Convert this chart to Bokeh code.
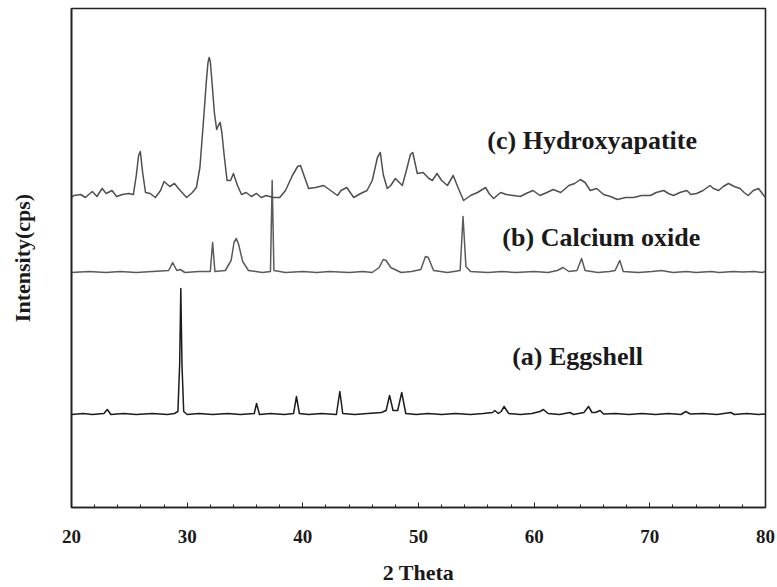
from bokeh.plotting import figure
from bokeh.models import Range1d, SingleIntervalTicker, FixedTicker, Label
from bokeh.embed import file_html
from bokeh.resources import INLINE

# ---- data (2theta in degrees, intensity above each trace's own baseline, cps) ----
egg_2theta = [20.0, 21.0, 21.8, 22.8, 23.1, 23.4, 24.5, 25.6, 27.0, 28.3, 28.9, 29.2, 29.35, 29.45, 29.55,
              29.7, 30.0, 31.0, 32.2, 33.5, 34.6, 35.8, 36.0, 36.25, 37.2, 38.4, 39.2, 39.45, 39.7, 40.5,
              41.6, 42.9, 43.2, 43.45, 44.5, 45.6, 46.8, 47.2, 47.5, 47.8, 48.2, 48.55, 48.9, 49.8, 50.8,
              52.0, 53.2, 54.5, 55.6, 56.4, 56.6, 56.9, 57.15, 57.4, 57.8, 58.8, 59.8, 60.5, 60.8, 61.2,
              62.2, 63.1, 63.4, 64.3, 64.7, 65.0, 65.3, 65.7, 66.0, 67.0, 68.2, 69.3, 70.5, 71.6, 72.7,
              73.1, 73.5, 74.6, 75.8, 77.0, 77.3, 78.4, 79.4, 80.0]
egg_int = [0, 10, 0, 10, 50, 0, 10, 0, 10, 0, 10, 30, 500, 1260, 500,
           30, 0, 10, 0, 10, 0, 10, 110, 0, 10, 0, 10, 180, 10, 0,
           10, 0, 230, 10, 0, 10, 20, 40, 190, 40, 40, 220, 10, 0, 10,
           0, 10, 0, 10, 20, 40, 10, 30, 80, 10, 0, 10, 30, 50, 10,
           0, 20, 0, 20, 80, 20, 20, 40, 5, 10, 0, 10, 0, 10, 0,
           30, 5, 10, 0, 20, 0, 10, 0, 5]

cao_2theta = [20.0, 21.5, 23.0, 24.2, 25.6, 27.0, 28.4, 28.75, 29.1, 29.4, 29.8, 31.0, 32.0, 32.2, 32.4,
              33.3, 33.8, 34.05, 34.25, 34.45, 34.8, 35.3, 36.5, 37.2, 37.35, 37.5, 38.5, 40.0, 41.2, 42.3,
              44.0, 45.2, 46.0, 46.6, 46.95, 47.2, 47.6, 48.5, 49.4, 50.2, 50.6, 50.85, 51.3, 52.5, 53.6,
              53.85, 54.1, 54.5, 56.0, 57.2, 58.4, 60.0, 61.2, 62.0, 62.5, 63.0, 63.7, 64.1, 64.4, 65.5,
              66.5, 67.0, 67.4, 67.7, 69.0, 70.2, 71.0, 72.0, 73.2, 74.0, 75.3, 76.0, 77.2, 78.0, 79.0,
              79.7, 80.0]
cao_int = [0, 10, 0, 10, 0, 10, 20, 100, 20, 30, 0, 10, 10, 300, 10,
           20, 120, 300, 340, 280, 110, 20, 0, 10, 920, 20, 0, 10, 0, 10,
           0, 10, 0, 50, 130, 120, 50, 0, 10, 30, 160, 150, 20, 0, 20,
           560, 60, 10, 0, 10, 0, 10, 0, 20, 50, 10, 20, 140, 20, 0,
           10, 20, 120, 10, 0, 10, 20, 0, 10, 0, 10, 0, 10, 5, 10,
           0, 10]

hap_2theta = [20.0, 20.2, 20.8, 21.2, 21.8, 22.2, 22.65, 23.0, 23.5, 23.9, 24.4, 24.95, 25.35, 25.6, 25.8,
              25.95, 26.15, 26.4, 26.8, 27.25, 27.7, 28.0, 28.5, 28.9, 29.4, 29.95, 30.45, 30.8, 31.1, 31.4,
              31.65, 31.8, 31.9, 32.0, 32.15, 32.35, 32.55, 32.7, 32.85, 33.0, 33.2, 33.45, 33.75, 34.0, 34.35,
              34.7, 35.1, 35.55, 36.0, 36.4, 36.85, 37.4, 38.0, 38.5, 39.1, 39.55, 39.8, 40.1, 40.5, 41.1,
              41.8, 42.4, 43.0, 43.3, 43.8, 44.4, 45.0, 45.55, 46.0, 46.45, 46.7, 46.95, 47.3, 47.6, 48.0,
              48.6, 48.95, 49.3, 49.5, 49.9, 50.4, 50.9, 51.2, 51.6, 52.0, 52.5, 53.0, 53.45, 53.9, 54.5,
              55.1, 55.8, 56.1, 56.5, 57.1, 57.6, 58.2, 58.8, 59.3, 59.9, 60.5, 61.1, 61.65, 62.3, 63.0,
              63.5, 64.0, 64.4, 64.85, 65.4, 66.0, 66.6, 67.2, 67.9, 68.6, 69.3, 70.05, 70.55, 71.2, 71.6,
              72.05, 72.6, 73.2, 73.55, 74.05, 74.6, 75.2, 75.5, 75.95, 76.35, 76.8, 77.3, 77.8, 78.15, 78.5,
              78.95, 79.4, 79.85, 80.0]
hap_int = [0, 20, 30, 0, 60, 10, 90, 40, 70, 10, 30, 40, 30, 220, 420,
           460, 250, 50, 40, 0, 70, 160, 110, 140, 70, 0, 50, 100, 300, 750,
           1150, 1350, 1400, 1360, 1150, 850, 680, 720, 750, 650, 420, 170, 170, 240, 120,
           30, 50, 10, 40, 0, 20, 0, 0, 70, 220, 310, 320, 220, 90, 100,
           120, 70, 20, 70, 100, 0, 40, 70, 170, 400, 450, 230, 90, 120, 190,
           120, 270, 430, 450, 240, 250, 190, 170, 240, 170, 120, 220, 90, -30, 20,
           50, 100, 40, -10, 50, 30, 20, 10, 40, 70, 20, 50, 80, 50, 120,
           140, 180, 150, 70, 90, 30, 10, -20, 0, 0, 20, 20, 50, 70, 40,
           20, 50, 70, 30, 40, 70, 120, 90, 70, 110, 140, 110, 90, 50, 20,
           70, 90, 20, 0]

labels = ["(a) Eggshell", "(b) Calcium oxide", "(c) Hydroxyapatite"]
x_ticks = [20, 30, 40, 50, 60, 70, 80]

# ---- layout / style ----
offsets = [930, 2350, 3100]          # vertical stacking of the three patterns
colors = ["#1c1c1c", "#5a5a5a", "#4f4f4f"]
label_pos = [(58.1, 1510), (57.25, 2700), (55.95, 3670)]
SERIF = "Liberation Serif"

p = figure(width=777, height=587, output_backend="svg", toolbar_location=None,
           x_range=Range1d(20, 80), y_range=Range1d(0, 4990),
           min_border_left=71, min_border_right=12, min_border_top=8, min_border_bottom=80)

p.xgrid.visible = False
p.ygrid.visible = False
p.background_fill_color = "white"
p.border_fill_color = "white"
p.outline_line_color = "#222222"
p.outline_line_width = 1.6

series = [(egg_2theta, egg_int), (cao_2theta, cao_int), (hap_2theta, hap_int)]
for (xs, ys), off, c in zip(series, offsets, colors):
    p.line(xs, [v + off for v in ys], line_color=c, line_width=1.5, line_join="round")

for txt, (lx, ly) in zip(labels, label_pos):
    p.add_layout(Label(x=lx, y=ly, text=txt, text_font=SERIF, text_font_style="bold",
                       text_font_size="26px", text_baseline="middle", text_align="left",
                       text_color="#1a1a1a"))

xa = p.xaxis[0]
xa.ticker = SingleIntervalTicker(interval=10, num_minor_ticks=5)
xa.major_tick_in = 5
xa.major_tick_out = 0
xa.minor_tick_in = 3
xa.minor_tick_out = 0
xa.axis_line_width = 1.6
xa.axis_line_color = "#222222"
xa.major_tick_line_color = "#222222"
xa.minor_tick_line_color = "#222222"
xa.major_label_text_font = SERIF
xa.major_label_text_font_style = "bold"
xa.major_label_text_font_size = "19px"
xa.major_label_text_color = "#1a1a1a"
xa.major_label_standoff = 22
xa.axis_label = "2 Theta"
xa.axis_label_text_font = SERIF
xa.axis_label_text_font_style = "bold"
xa.axis_label_text_font_size = "22px"
xa.axis_label_text_color = "#1a1a1a"
xa.axis_label_standoff = 14

ya = p.yaxis[0]
ya.ticker = FixedTicker(ticks=[])
ya.major_tick_line_color = None
ya.minor_tick_line_color = None
ya.major_label_standoff = 0
ya.axis_line_width = 1.6
ya.axis_line_color = "#222222"
ya.axis_label = "Intensity(cps)"
ya.axis_label_text_font = SERIF
ya.axis_label_text_font_style = "bold"
ya.axis_label_text_font_size = "22px"
ya.axis_label_text_color = "#1a1a1a"
ya.axis_label_standoff = 37

open("out.html", "w").write(file_html(p, INLINE))
